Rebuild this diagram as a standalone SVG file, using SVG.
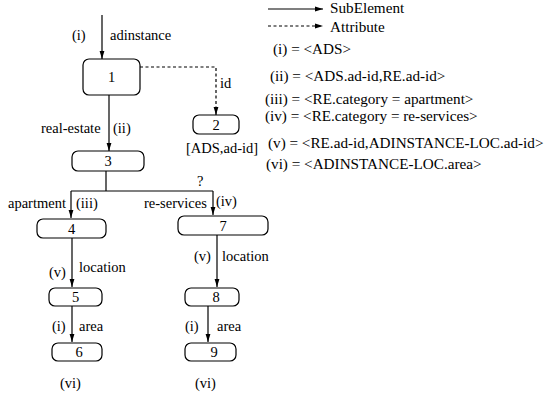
<svg xmlns="http://www.w3.org/2000/svg" width="546" height="393" viewBox="0 0 546 393">
<defs>
<marker id="ah" markerWidth="8" markerHeight="6" refX="8" refY="3" orient="auto" markerUnits="userSpaceOnUse">
<path d="M0,0.6 L8,3 L0,5.4 Z" fill="#000"/>
</marker>
<style>
text{font-family:"Liberation Serif","Times New Roman",serif;font-size:14.5px;fill:#000}
.n{text-anchor:middle}
.lg{font-size:15.2px}
.box{fill:#fff;stroke:#000;stroke-width:1.2}
.s{fill:none;stroke:#000;stroke-width:1.2}
.d{fill:none;stroke:#000;stroke-width:1.2;stroke-dasharray:3,2.5}
</style>
</defs>
<rect width="546" height="393" fill="#fff"/>
<g id="connectors">
<line class="s" x1="102" y1="15" x2="102" y2="59" marker-end="url(#ah)"/>
<path class="d" d="M140,67 H216 V115" marker-end="url(#ah)"/>
<line class="s" x1="109" y1="95" x2="109" y2="151" marker-end="url(#ah)"/>
<path class="s" d="M106,171 V191 M71,191 H213"/>
<line class="s" x1="71" y1="191" x2="71" y2="218" marker-end="url(#ah)"/>
<line class="s" x1="213" y1="191" x2="213" y2="215" marker-end="url(#ah)"/>
<line class="s" x1="72" y1="238" x2="72" y2="287" marker-end="url(#ah)"/>
<line class="s" x1="217" y1="235" x2="217" y2="287" marker-end="url(#ah)"/>
<line class="s" x1="72" y1="306" x2="72" y2="342" marker-end="url(#ah)"/>
<line class="s" x1="208" y1="306" x2="208" y2="342" marker-end="url(#ah)"/>
<line class="s" x1="268" y1="9" x2="323" y2="9" marker-end="url(#ah)"/>
<line class="d" x1="268" y1="26" x2="323" y2="26" marker-end="url(#ah)"/>
</g>
<g id="n1"><rect class="box" x="83" y="59" width="57" height="36" rx="6"/><text class="n" x="111.5" y="82">1</text></g>
<g id="n2"><rect class="box" x="193" y="115" width="46" height="19" rx="6"/><text class="n" x="216" y="130">2</text></g>
<g id="n3"><rect class="box" x="72" y="151" width="72" height="20" rx="6"/><text class="n" x="108" y="166">3</text></g>
<g id="n4"><rect class="box" x="37" y="219" width="69" height="19" rx="6"/><text class="n" x="71.5" y="234">4</text></g>
<g id="n7"><rect class="box" x="178" y="216" width="90" height="19" rx="6"/><text class="n" x="223" y="231">7</text></g>
<g id="n5"><rect class="box" x="49" y="288" width="53" height="18" rx="6"/><text class="n" x="75.5" y="302">5</text></g>
<g id="n8"><rect class="box" x="185" y="288" width="54" height="18" rx="6"/><text class="n" x="216" y="302">8</text></g>
<g id="n6"><rect class="box" x="52" y="343" width="50" height="18" rx="6"/><text class="n" x="79" y="357">6</text></g>
<g id="n9"><rect class="box" x="185" y="343" width="51" height="18" rx="6"/><text class="n" x="214" y="357">9</text></g>
<g id="labels">
<text x="72" y="40">(i)</text>
<text x="110" y="40">adinstance</text>
<text x="220" y="88">id</text>
<text x="186" y="153">[ADS,ad-id]</text>
<text x="41" y="133">real-estate</text>
<text x="113" y="133">(ii)</text>
<text x="197" y="186">?</text>
<text x="8" y="208">apartment</text>
<text x="76" y="208">(iii)</text>
<text x="144" y="208">re-services</text>
<text x="216" y="206">(iv)</text>
<text x="49" y="277">(v)</text>
<text x="79" y="272">location</text>
<text x="194" y="261">(v)</text>
<text x="222" y="261">location</text>
<text x="52" y="331">(i)</text>
<text x="79" y="331">area</text>
<text x="185" y="331">(i)</text>
<text x="217" y="331">area</text>
<text x="60" y="388">(vi)</text>
<text x="195" y="388">(vi)</text>
</g>
<g id="legend">
<text class="lg" x="330" y="13">SubElement</text>
<text class="lg" x="330" y="32">Attribute</text>
<text class="lg" x="273" y="54">(i) = &lt;ADS&gt;</text>
<text class="lg" x="270" y="81">(ii) = &lt;ADS.ad-id,RE.ad-id&gt;</text>
<text class="lg" x="265" y="104">(iii) = &lt;RE.category = apartment&gt;</text>
<text class="lg" x="265" y="121">(iv) = &lt;RE.category = re-services&gt;</text>
<text class="lg" x="268" y="148">(v) = &lt;RE.ad-id,ADINSTANCE-LOC.ad-id&gt;</text>
<text class="lg" x="266" y="169">(vi) = &lt;ADINSTANCE-LOC.area&gt;</text>
</g>
</svg>
